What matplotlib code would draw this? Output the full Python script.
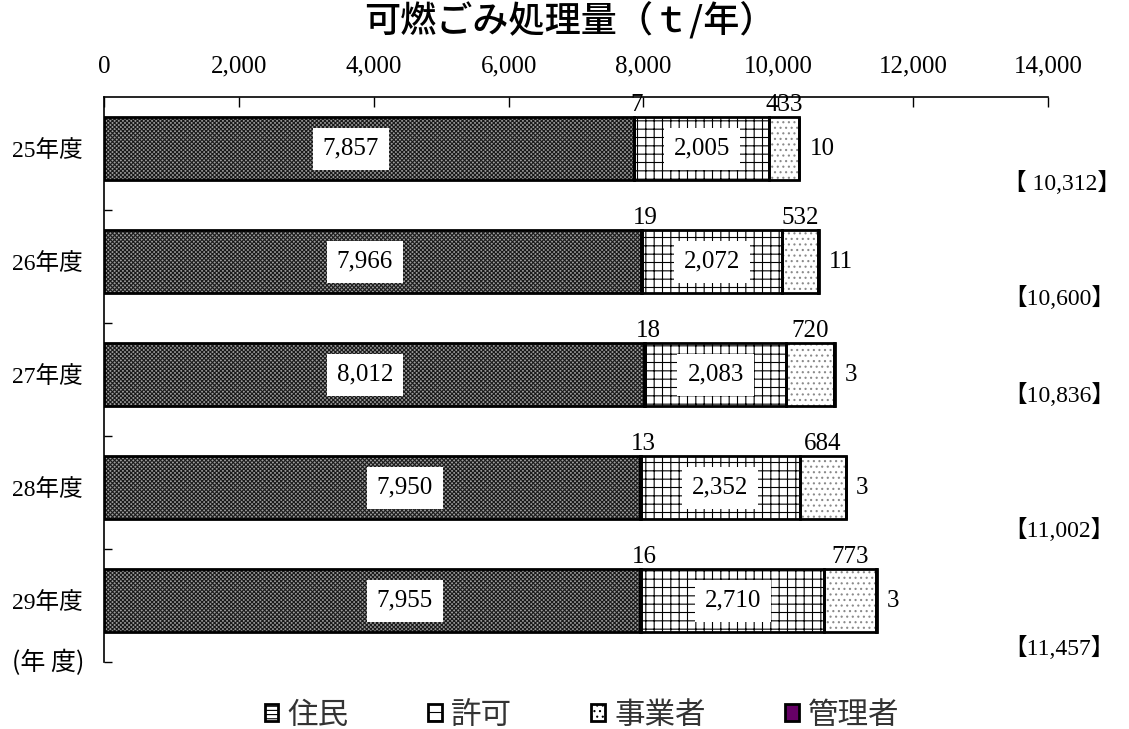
import numpy as np
import matplotlib
matplotlib.use("Agg")
import matplotlib.pyplot as plt
from matplotlib.patches import Patch

# ---- data -------------------------------------------------------------
years = ["25年度", "26年度", "27年度", "28年度", "29年度"]
residents = [7857, 7966, 8012, 7950, 7955]
direct = [7, 19, 18, 13, 16]
permitted = [2005, 2072, 2083, 2352, 2710]
business = [433, 532, 720, 684, 773]
managers = [10, 11, 3, 3, 3]
total_labels = ["【 10,312】", "【10,600】", "【10,836】", "【11,002】", "【11,457】"]
x_ticks = [0, 2000, 4000, 6000, 8000, 10000, 12000, 14000]
legend_names = ["住民", "許可", "事業者", "管理者"]

# ---- layout -----------------------------------------------------------
resident_label_x = [3660, 3870, 3870, 4460, 4460]
total_label_y = [0.76, 1.78, 2.64, 3.83, 4.88]
total_label_x = 13330

NUM_FONT = ["Liberation Serif", "Noto Sans CJK JP"]
CJK_FONT = ["Noto Sans CJK JP", "DejaVu Sans"]
plt.rcParams["font.family"] = CJK_FONT
plt.rcParams["hatch.linewidth"] = 0.8

W, H = 1129, 729
fig = plt.figure(figsize=(W / 100, H / 100), dpi=100)
ax = fig.add_axes([104 / W, 1 - 662 / H, 944 / W, 565 / H])
ax.set_xlim(0, 14000)
ax.set_ylim(5, 0)

centers = np.arange(len(years)) + 0.456
bar_h = 0.558

res = np.array(residents, float)
d = np.array(direct, float)
p = np.array(permitted, float)
b = np.array(business, float)
m = np.array(managers, float)
left_d = res
left_p = res + d
left_b = left_p + p
left_m = left_b + b
ends = left_m + m

# hatched fills (hatch colour follows edgecolor), then black outlines
ax.barh(centers, res, height=bar_h, left=0, color="#9c9c9c",
        edgecolor="#1a1a1a", hatch="xxxxxxxx", linewidth=0)
ax.barh(centers, d, height=bar_h, left=left_d, color="black", linewidth=0)
ax.barh(centers, p, height=bar_h, left=left_p, color="white",
        edgecolor="black", hatch="++", linewidth=0)
ax.barh(centers, b, height=bar_h, left=left_b, color="white",
        edgecolor="#8a8a8a", hatch="...", linewidth=0)
ax.barh(centers, m, height=bar_h, left=left_m, color="#660066", linewidth=0)
for vals, lefts in [(res, 0), (d, left_d), (p, left_p), (b, left_b), (m, left_m)]:
    ax.barh(centers, vals, height=bar_h, left=lefts, fill=False,
            edgecolor="black", linewidth=2.0)

box = dict(boxstyle="square,pad=0.4", fc="white", ec="none")
for i, c in enumerate(centers):
    ax.text(resident_label_x[i], c, f"{residents[i]:,}", ha="center",
            va="center", fontsize=18, family=NUM_FONT, bbox=box)
    ax.text(left_p[i] + p[i] / 2, c, f"{permitted[i]:,}", ha="center",
            va="center", fontsize=18, family=NUM_FONT, bbox=box)
    top = c - bar_h / 2 - 0.01
    ax.text(left_p[i] + 40, top, f"{direct[i]}", ha="center", va="bottom",
            fontsize=18, family=NUM_FONT)
    ax.text(left_b[i] + b[i] / 2, top, f"{business[i]}", ha="center",
            va="bottom", fontsize=18, family=NUM_FONT)
    ax.text(ends[i] + 150, c, f"{managers[i]}", ha="left", va="center",
            fontsize=18, family=NUM_FONT)
    ax.text(total_label_x, total_label_y[i], total_labels[i], ha="left",
            va="center", fontsize=17, family=NUM_FONT, clip_on=False)

# axes styling
ax.xaxis.tick_top()
ax.set_xticks(x_ticks)
ax.set_xticklabels([f"{v:,}" for v in x_ticks], family=NUM_FONT)
ax.tick_params(axis="x", direction="in", length=7, width=1, pad=14,
               labelsize=18, colors="black")
ax.set_yticks(centers)
ax.set_yticklabels(years, family=NUM_FONT)
ax.tick_params(axis="y", which="major", length=0, pad=15, labelsize=17)
ax.set_yticks(np.arange(1, len(years) + 1), minor=True)
ax.tick_params(axis="y", which="minor", direction="in", length=6, width=1)
for side in ("right", "bottom"):
    ax.spines[side].set_visible(False)
for side in ("top", "left"):
    ax.spines[side].set_linewidth(1.2)
    ax.spines[side].set_color("black")

fig.text(48 / W, 1 - 663 / H, "(年 度)", ha="center", va="center",
         fontsize=18, family=CJK_FONT)
fig.text(570 / W, 1 - 22 / H, "可燃ごみ処理量（ｔ/年）", ha="center",
         va="center", fontsize=26, family=CJK_FONT, fontweight="medium")

handles = [
    Patch(facecolor="white", edgecolor="black", hatch="----", linewidth=2),
    Patch(facecolor="white", edgecolor="black", hatch="--", linewidth=2),
    Patch(facecolor="white", edgecolor="black", hatch="...", linewidth=2),
    Patch(facecolor="#660066", edgecolor="black", linewidth=2),
]
leg = fig.legend(handles, legend_names, loc="center",
                 bbox_to_anchor=(582 / W, 1 - 715 / H), ncol=4, frameon=False,
                 prop=dict(family=CJK_FONT, size=22), handlelength=0.45,
                 handleheight=0.45, handletextpad=0.3, columnspacing=2.6)
for t in leg.get_texts():
    t.set_color("#333333")

fig.savefig("out.png", dpi=100)
